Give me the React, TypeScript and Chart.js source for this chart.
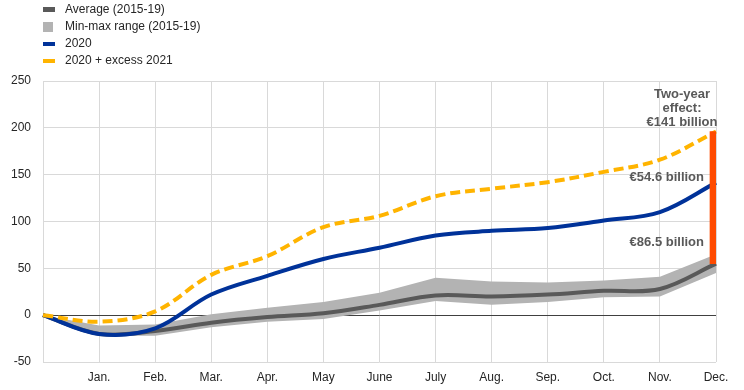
import React, { useEffect, useRef } from "react";
import { Chart, registerables } from "chart.js";

Chart.register(...registerables);

const monthLabels = ["", "Jan.", "Feb.", "Mar.", "Apr.", "May", "June", "July", "Aug.", "Sep.", "Oct.", "Nov.", "Dec."];
const average1519 = [0, -20, -17, -8, -2, 2, 11, 21, 20, 22, 26, 28, 55];
const min1519 = [0, -22, -22, -13, -7, -4, 5, 15, 11, 14, 19, 20, 45];
const max1519 = [0, -11, -10, 1, 8, 14, 24, 40, 36, 35, 37, 41, 65];
const values2020 = [0, -20, -14, 22, 42, 60, 72, 85, 90, 93, 101, 110, 141.5];
const values2020Excess = [0, -7, 4, 43, 63, 94, 106, 127, 135, 142, 153, 166, 196.1];
const twoYearEffect = [null, null, null, null, null, null, null, null, null, null, null, null, [55, 196.1]];
const yTicks = [-50, 0, 50, 100, 150, 200, 250];

const FONT = "'Liberation Sans', Arial, sans-serif";
const GREY_DARK = "#595959";
const GREY_BAND = "#b3b3b3";
const BLUE = "#003299";
const YELLOW = "#ffb400";
const ORANGE = "#ff4b00";

const annotationPlugin = {
  id: "annotations",
  afterDatasetsDraw(chart: any) {
    const { ctx, scales } = chart;
    const x = scales.x.getPixelForValue(12);
    const y = scales.y;
    ctx.save();
    ctx.fillStyle = "#595959";
    ctx.font = `bold 13px ${FONT}`;
    ctx.textBaseline = "middle";
    ctx.textAlign = "center";
    ctx.fillText("Two-year", x - 34, y.getPixelForValue(236));
    ctx.fillText("effect:", x - 34, y.getPixelForValue(221));
    ctx.fillText("€141 billion", x - 34, y.getPixelForValue(205.5));
    ctx.textAlign = "right";
    ctx.fillText("€54.6 billion", x - 12, y.getPixelForValue(147));
    ctx.fillText("€86.5 billion", x - 12, y.getPixelForValue(77.5));
    ctx.restore();
  },
};

export default function App() {
  const canvasRef = useRef<HTMLCanvasElement | null>(null);

  useEffect(() => {
    document.body.style.margin = "0";
    const canvas = canvasRef.current;
    if (!canvas) return;
    const chart = new Chart(canvas, {
      type: "line",
      data: {
        labels: monthLabels,
        datasets: [
          {
            label: "Average (2015-19)",
            data: average1519,
            borderColor: GREY_DARK,
            borderWidth: 4,
            pointRadius: 0,
            tension: 0.35,
            order: 3,
          } as any,
          {
            label: "min",
            data: min1519,
            borderWidth: 0,
            borderColor: "rgba(0,0,0,0)",
            pointRadius: 0,
            tension: 0,
            order: 5,
          },
          {
            label: "Min-max range (2015-19)",
            data: max1519,
            borderWidth: 0,
            borderColor: "rgba(0,0,0,0)",
            backgroundColor: GREY_BAND,
            fill: 1,
            pointRadius: 0,
            tension: 0,
            order: 4,
          },
          {
            label: "2020",
            data: values2020,
            borderColor: BLUE,
            borderWidth: 4,
            pointRadius: 0,
            tension: 0.35,
            order: 2,
          },
          {
            label: "2020 + excess 2021",
            data: values2020Excess,
            borderColor: YELLOW,
            borderWidth: 4,
            borderDash: [10, 5],
            pointRadius: 0,
            tension: 0.35,
            order: 1,
          },
          {
            type: "bar",
            label: "Two-year effect",
            data: twoYearEffect as any,
            backgroundColor: ORANGE,
            borderWidth: 0,
            barThickness: 12,
            order: 0,
          } as any,
        ],
      },
      options: {
        animation: false,
        responsive: false,
        maintainAspectRatio: false,
        layout: { padding: { top: 81, right: 28, left: 0, bottom: 0 } },
        plugins: {
          legend: { display: false },
          tooltip: { enabled: false },
        },
        scales: {
          x: {
            type: "category",
            offset: false,
            grid: {
              offset: false,
              color: "#d9d9d9",
              lineWidth: 1,
              drawTicks: false,
            },
            border: { display: false },
            ticks: {
              padding: 8,
              color: "#262626",
              font: { family: FONT, size: 12 },
              maxRotation: 0,
              autoSkip: false,
            },
            afterFit: (scale: any) => {
              scale.height = 28;
            },
          },
          y: {
            min: -50,
            max: 250,
            afterBuildTicks: (scale: any) => {
              scale.ticks = yTicks.map((v) => ({ value: v }));
            },
            grid: {
              color: (ctx: any) => (ctx.tick && ctx.tick.value === 0 ? "#404040" : "#d9d9d9"),
              lineWidth: 1,
              drawTicks: false,
            },
            border: { display: false },
            ticks: {
              padding: 12,
              color: "#262626",
              font: { family: FONT, size: 12 },
            },
            afterFit: (scale: any) => {
              scale.width = 43;
            },
          },
        },
      },
      plugins: [annotationPlugin],
    });
    return () => chart.destroy();
  }, []);

  const legendItems = [
    { label: "Average (2015-19)", color: GREY_DARK, w: 12, h: 5 },
    { label: "Min-max range (2015-19)", color: GREY_BAND, w: 10, h: 10 },
    { label: "2020", color: BLUE, w: 12, h: 4 },
    { label: "2020 + excess 2021", color: YELLOW, w: 12, h: 4 },
  ];

  return (
    <div style={{ position: "absolute", left: 0, top: 0, width: 744, height: 390, background: "#fff" }}>
      <canvas ref={canvasRef} width={744} height={390} style={{ position: "absolute", left: 0, top: 0 }} />
      <div style={{ position: "absolute", left: 43, top: 1, fontFamily: FONT, fontSize: 12, color: "#262626" }}>
        {legendItems.map((it) => (
          <div key={it.label} style={{ display: "flex", alignItems: "center", height: 17 }}>
            <div style={{ width: 22, display: "flex", alignItems: "center" }}>
              <span style={{ display: "inline-block", width: it.w, height: it.h, background: it.color }} />
            </div>
            <span style={{ lineHeight: "17px" }}>{it.label}</span>
          </div>
        ))}
      </div>
    </div>
  );
}
